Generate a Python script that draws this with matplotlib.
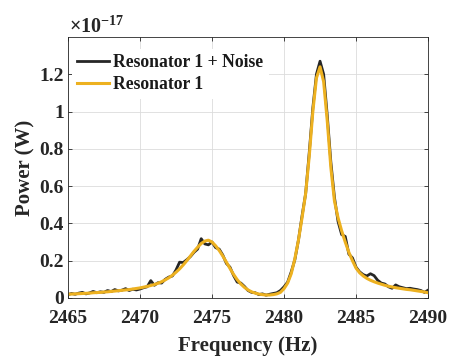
import matplotlib
matplotlib.use("Agg")
import matplotlib.pyplot as plt
from matplotlib.ticker import FuncFormatter

# Frequency grid (Hz), 0.25 Hz spacing from 2465 to 2490
freq_start = 2465.0
freq_step = 0.25

# Power in units of 1e-17 W
resonator_noise = [
    0.018, 0.024, 0.020, 0.026,
    0.030, 0.022, 0.027, 0.035,
    0.028, 0.033, 0.030, 0.040,
    0.034, 0.045, 0.038, 0.042,
    0.050, 0.040, 0.047, 0.043,
    0.048, 0.055, 0.060, 0.093,
    0.068, 0.082, 0.080, 0.100,
    0.112, 0.118, 0.150, 0.192,
    0.190, 0.205, 0.222, 0.245,
    0.262, 0.318, 0.290, 0.285,
    0.300, 0.270, 0.262, 0.230,
    0.185, 0.165, 0.120, 0.085,
    0.080, 0.062, 0.040, 0.030,
    0.028, 0.018, 0.022, 0.015,
    0.020, 0.024, 0.028, 0.040,
    0.060, 0.085, 0.140, 0.205,
    0.310, 0.440, 0.560, 0.780,
    1.020, 1.200, 1.270, 1.200,
    0.980, 0.730, 0.540, 0.410,
    0.340, 0.330, 0.235, 0.215,
    0.165, 0.140, 0.125, 0.118,
    0.130, 0.120, 0.095, 0.080,
    0.075, 0.060, 0.052, 0.070,
    0.060, 0.055, 0.050, 0.052,
    0.048, 0.045, 0.040, 0.030,
    0.042,
]

resonator = [
    0.020, 0.021, 0.022, 0.023,
    0.024, 0.025, 0.026, 0.028,
    0.029, 0.030, 0.032, 0.033,
    0.035, 0.037, 0.039, 0.041,
    0.043, 0.045, 0.048, 0.051,
    0.054, 0.058, 0.062, 0.067,
    0.072, 0.079, 0.087, 0.097,
    0.108, 0.122, 0.138, 0.156,
    0.177, 0.200, 0.225, 0.250,
    0.272, 0.292, 0.305, 0.310,
    0.300, 0.280, 0.255, 0.225,
    0.192, 0.158, 0.126, 0.098,
    0.075, 0.057, 0.043, 0.033,
    0.026, 0.021, 0.018, 0.016,
    0.016, 0.018, 0.022, 0.030,
    0.050, 0.080, 0.130, 0.210,
    0.310, 0.430, 0.560, 0.760,
    1.000, 1.180, 1.240, 1.160,
    0.950, 0.700, 0.520, 0.430,
    0.360, 0.300, 0.245, 0.200,
    0.160, 0.135, 0.118, 0.105,
    0.095, 0.087, 0.080, 0.074,
    0.068, 0.063, 0.059, 0.055,
    0.052, 0.049, 0.046, 0.044,
    0.041, 0.038, 0.035, 0.032,
    0.028,
]

freq = [freq_start + i * freq_step for i in range(len(resonator))]

x_ticks = [2465, 2470, 2475, 2480, 2485, 2490]
y_ticks = [0, 0.2, 0.4, 0.6, 0.8, 1.0, 1.2]

plt.rcParams['font.family'] = ['Liberation Serif', 'DejaVu Serif']
plt.rcParams['font.weight'] = 'bold'
plt.rcParams['mathtext.fontset'] = 'custom'
plt.rcParams['mathtext.rm'] = 'Liberation Serif'
plt.rcParams['mathtext.bf'] = 'Liberation Serif:bold'

fig = plt.figure(figsize=(4.53, 3.59), dpi=100)
ax = fig.add_axes([0.150, 0.170, 0.795, 0.727])

ax.plot(freq, resonator_noise, color='#262626', lw=2.0, label='Resonator 1 + Noise')
ax.plot(freq, resonator, color='#EDB120', lw=2.2, label='Resonator 1')

ax.set_xlim(2465, 2490)
ax.set_ylim(0, 1.4)
ax.set_xticks(x_ticks)
ax.set_yticks(y_ticks)
ax.yaxis.set_major_formatter(FuncFormatter(lambda v, p: '%g' % round(v, 2)))
ax.tick_params(direction='in', top=True, right=True, labelsize=14, length=3,
               width=0.6, color='#262626')
ax.tick_params(axis='x', pad=9)
ax.tick_params(axis='y', pad=3)
for lbl in ax.get_xticklabels() + ax.get_yticklabels():
    lbl.set_fontweight('bold')
    lbl.set_color('#262626')

ax.grid(True, color='#dcdcdc', lw=0.6)
ax.set_axisbelow(True)
for s in ax.spines.values():
    s.set_linewidth(0.6)
    s.set_color('#262626')

ax.set_xlabel('Frequency (Hz)', fontsize=15, fontweight='bold', color='#262626', labelpad=6)
ax.set_ylabel('Power (W)', fontsize=15, fontweight='bold', color='#262626', labelpad=3)

ax.text(0.003, 0.995, r'$\times\mathregular{10^{-17}}$', transform=ax.transAxes,
        fontsize=14.5, color='#262626', ha='left', va='bottom')

leg = ax.legend(loc='upper left', bbox_to_anchor=(0.011, 0.955), frameon=True,
                fontsize=12.7, handlelength=1.8, handletextpad=0.25,
                borderaxespad=0.0, borderpad=0.3, labelspacing=0.3)
leg.get_frame().set_edgecolor('none')
leg.get_frame().set_facecolor('white')
leg.get_frame().set_alpha(1.0)
for t in leg.get_texts():
    t.set_fontweight('bold')
    t.set_color('#1a1a1a')

fig.savefig('out.png', dpi=100)
